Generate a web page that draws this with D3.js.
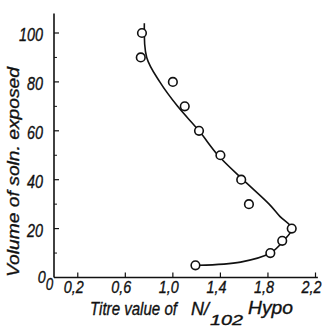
<!DOCTYPE html>
<html>
<head>
<meta charset="utf-8">
<script src="https://cdn.jsdelivr.net/npm/d3@7"></script>
<style>
  body { margin: 0; background: #fff; }
  text { font-family: "Liberation Sans", Arial, sans-serif; font-style: italic; fill: #111; stroke: #111; stroke-width: 0.35; }
</style>
</head>
<body>
<svg width="324" height="329"></svg>
<script>
// measured points (titre, volume)
var titre  = [0.74, 0.73, 1.00, 1.10, 1.22, 1.40, 1.575, 1.64, 2.00, 1.92, 1.82, 1.19];
var volume = [100, 90, 80, 70, 60, 50, 40, 30, 20, 15, 10, 5];

// fitted curve drawn through the points
var curveX = [0.76, 0.78, 0.89, 1.04, 1.22, 1.38, 1.59, 1.81, 1.90, 2.00, 1.93, 1.82, 1.57, 1.22];
var curveY = [104, 90, 80, 70, 60, 50, 40, 30, 25, 20, 15, 10, 6.3, 5];

var xTicks = [0.2, 0.6, 1.0, 1.4, 1.8, 2.2];
var xTickLabels = ["0,2", "0,6", "1,0", "1,4", "1,8", "2,2"];
var yTicks = [20, 40, 60, 80, 100];
var yMinorTicks = [10, 30, 50, 70, 90];

var svg = d3.select("svg");

var x = d3.scaleLinear().domain([0, 2.2]).range([54, 315.5]);
var y = d3.scaleLinear().domain([0, 100]).range([277.5, 33]);

// squeezed italic text, like the condensed lettering of the original
function label(g, tx, ty, str, size, len, anchor) {
  var t = g.append("text").attr("x", tx).attr("y", ty)
    .attr("font-size", size).attr("text-anchor", anchor || "start")
    .text(str);
  if (len) t.attr("textLength", len).attr("lengthAdjust", "spacingAndGlyphs");
  return t;
}

// axes lines
svg.append("line").attr("x1", x(0)).attr("x2", x(2.22)).attr("y1", y(0)).attr("y2", y(0))
  .attr("stroke", "#111").attr("stroke-width", 1.6);
svg.append("line").attr("x1", x(0)).attr("x2", x(0)).attr("y1", y(0)).attr("y2", y(108))
  .attr("stroke", "#111").attr("stroke-width", 1.6);

// x ticks (pointing up)
svg.selectAll(".xt").data(xTicks).enter().append("line")
  .attr("x1", function(d){ return x(d); }).attr("x2", function(d){ return x(d); })
  .attr("y1", y(0)).attr("y2", y(0) - 5)
  .attr("stroke", "#111").attr("stroke-width", 1.2);
xTicks.forEach(function(d, i){
  label(svg, x(d) - 4, 293, xTickLabels[i], 17, 20, "middle");
});

// y ticks (pointing right)
svg.selectAll(".yt").data(yTicks).enter().append("line")
  .attr("x1", x(0)).attr("x2", x(0) + 5)
  .attr("y1", function(d){ return y(d); }).attr("y2", function(d){ return y(d); })
  .attr("stroke", "#111").attr("stroke-width", 1.2);
svg.selectAll(".ym").data(yMinorTicks).enter().append("line")
  .attr("x1", x(0)).attr("x2", x(0) + 3)
  .attr("y1", function(d){ return y(d); }).attr("y2", function(d){ return y(d); })
  .attr("stroke", "#111").attr("stroke-width", 1);
yTicks.forEach(function(d){
  var s = String(d);
  label(svg, 43, y(d) + 8, s, 19, s.length * 8, "end");
});

// origin zeros
label(svg, 41.7, 283, "0", 17, 8, "middle");
label(svg, 49.5, 290, "0", 17, 7.5, "middle");

// curve
var line = d3.line()
  .x(function(d){ return x(d[0]); })
  .y(function(d){ return y(d[1]); })
  .curve(d3.curveCatmullRom.alpha(0.5));
svg.append("path")
  .datum(d3.zip(curveX, curveY))
  .attr("d", line)
  .attr("fill", "none").attr("stroke", "#111").attr("stroke-width", 1.6);

// points
svg.selectAll(".pt").data(d3.zip(titre, volume)).enter().append("circle")
  .attr("cx", function(d){ return x(d[0]); })
  .attr("cy", function(d){ return y(d[1]); })
  .attr("r", 4.3)
  .attr("fill", "#fff").attr("stroke", "#111").attr("stroke-width", 1.6);

// axis titles
var yg = svg.append("g").attr("transform", "translate(19,172) rotate(-90)");
label(yg, 0, 0, "Volume of soln. exposed", 17, 210, "middle");

// x title: one text, N/102 with a lowered 102
var xt = svg.append("text").attr("font-size", 18);
xt.append("tspan").attr("x", 90).attr("y", 315)
  .attr("textLength", 87).attr("lengthAdjust", "spacingAndGlyphs").text("Titre value of");
xt.append("tspan").attr("x", 191).attr("y", 315)
  .attr("textLength", 18).attr("lengthAdjust", "spacingAndGlyphs").text("N/");
xt.append("tspan").attr("x", 210).attr("y", 325).attr("font-size", 15)
  .attr("textLength", 33).attr("lengthAdjust", "spacingAndGlyphs").text("102");
xt.append("tspan").attr("x", 248).attr("y", 314)
  .attr("textLength", 45).attr("lengthAdjust", "spacingAndGlyphs").text("Hypo");
</script>
</body>
</html>
